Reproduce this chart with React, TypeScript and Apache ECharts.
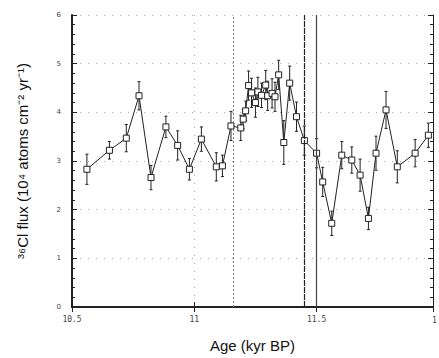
import React, { useEffect, useRef } from "react";
import * as echarts from "echarts";

const ages = [10.561, 10.653, 10.722, 10.774, 10.823, 10.884, 10.932, 10.98, 11.029, 11.09, 11.115, 11.15, 11.19, 11.2, 11.21, 11.222, 11.234, 11.25, 11.26, 11.275, 11.292, 11.3, 11.318, 11.33, 11.345, 11.366, 11.39, 11.418, 11.45, 11.5, 11.525, 11.562, 11.603, 11.644, 11.678, 11.712, 11.743, 11.784, 11.83, 11.903, 11.957];
const flux = [2.83, 3.22, 3.47, 4.34, 2.66, 3.7, 3.32, 2.83, 3.45, 2.88, 2.9, 3.72, 3.68, 3.86, 4.03, 4.55, 4.4, 4.2, 4.42, 4.35, 4.56, 4.34, 4.39, 4.32, 4.77, 3.38, 4.6, 3.91, 3.42, 3.16, 2.57, 1.72, 3.12, 3.02, 2.71, 1.82, 3.16, 4.05, 2.88, 3.16, 3.53];
const errs = [0.31, 0.18, 0.28, 0.29, 0.25, 0.22, 0.3, 0.22, 0.25, 0.29, 0.22, 0.3, 0.26, 0.2, 0.2, 0.3, 0.3, 0.3, 0.3, 0.25, 0.3, 0.3, 0.3, 0.3, 0.3, 0.45, 0.35, 0.3, 0.3, 0.3, 0.3, 0.25, 0.28, 0.27, 0.33, 0.23, 0.35, 0.38, 0.33, 0.28, 0.25];
const xTicks = ["10.5", "11", "11.5"];
const edgeTick = "1";
const markers = [11.158, 11.449, 11.5];

export default function App() {
  const ref = useRef<HTMLDivElement>(null);
  useEffect(() => {
    const chart = echarts.init(ref.current!, null, { renderer: "svg" });
    const pts = ages.map((a, i) => [a, flux[i]]);
    const eb = ages.map((a, i) => [a, flux[i], errs[i]]);
    const tickFont = { fontFamily: "DejaVu Sans Mono", fontSize: 8, color: "#444" };
    chart.setOption({
      animation: false,
      backgroundColor: "#fff",
      grid: { left: 72, right: 6, top: 15, bottom: 51 },
      xAxis: [
        {
          type: "value", min: 10.5, max: 11.976, interval: 0.5,
          axisLine: { lineStyle: { color: "#222", width: 2 } },
          axisTick: { inside: true, length: 5, lineStyle: { color: "#222" } },
          axisLabel: { ...tickFont, margin: 8, showMaxLabel: false, formatter: (v: number) => { const i = Math.round((v - 10.5) / 0.5); return xTicks[i] ?? ""; } },
          splitLine: { show: true, lineStyle: { color: "#aaa", type: [1, 7], width: 1 } },
          name: "Age (kyr BP)", nameLocation: "middle", nameGap: 31,
          nameTextStyle: { fontFamily: "Liberation Sans", fontSize: 15, color: "#111" },
        },
        {
          type: "value", position: "top", min: 10.5, max: 11.976, interval: 0.5,
          axisLine: { lineStyle: { color: "#222", width: 2 } },
          axisTick: { inside: true, length: 5, lineStyle: { color: "#222" } },
          axisLabel: { show: false }, splitLine: { show: false },
        },
      ],
      yAxis: [
        {
          type: "value", min: 0, max: 6, interval: 1,
          axisLine: { show: true, lineStyle: { color: "#222", width: 2 } },
          axisTick: { inside: true, length: 5, lineStyle: { color: "#222" } },
          minorTick: { show: true, splitNumber: 5, length: 3, lineStyle: { color: "#222" } },
          axisLabel: { fontFamily: "DejaVu Sans", fontSize: 7, color: "#444", margin: 11 },
          splitLine: { show: true, lineStyle: { color: "#aaa", type: [1, 7], width: 1 } },
          name: "³⁶Cl flux (10⁴ atoms cm⁻² yr⁻¹)", nameLocation: "middle", nameGap: 42,
          nameTextStyle: { fontFamily: "Liberation Sans", fontSize: 15, color: "#111" },
        },
        {
          type: "value", position: "right", min: 0, max: 6, interval: 1,
          axisLine: { show: true, lineStyle: { color: "#222", width: 1 } },
          axisTick: { inside: true, length: 5, lineStyle: { color: "#222" } },
          minorTick: { show: true, splitNumber: 5, length: 3, lineStyle: { color: "#222" } },
          axisLabel: { show: false }, splitLine: { show: false },
        },
      ],
      graphic: [
        { type: "text", left: 432, top: 316, style: { text: edgeTick, fontFamily: "DejaVu Sans Mono", fontSize: 8, fill: "#444" } },
      ],
      series: [
        {
          type: "line", data: [], silent: true,
          markLine: {
            silent: true, symbol: "none", label: { show: false },
            data: [
              { xAxis: markers[0], lineStyle: { color: "#777", type: [2, 2], width: 1 } },
              { xAxis: markers[1], lineStyle: { color: "#222", type: [6, 1], width: 1.2 } },
              { xAxis: markers[2], lineStyle: { color: "#444", type: "solid", width: 1.2 } },
            ],
          },
        },
        {
          type: "custom", data: eb, z: 3,
          renderItem: (params: any, api: any) => {
            const x = api.value(0), y = api.value(1), e = api.value(2);
            const hi = api.coord([x, y + e]);
            const lo = api.coord([x, y - e]);
            const st = { stroke: "#222", lineWidth: 1 };
            return {
              type: "group",
              children: [
                { type: "line", shape: { x1: hi[0], y1: hi[1], x2: lo[0], y2: lo[1] }, style: st },
                { type: "line", shape: { x1: hi[0] - 1.5, y1: hi[1], x2: hi[0] + 1.5, y2: hi[1] }, style: st },
                { type: "line", shape: { x1: lo[0] - 1.5, y1: lo[1], x2: lo[0] + 1.5, y2: lo[1] }, style: st },
              ],
            };
          },
        },
        {
          type: "line", data: pts, z: 4,
          symbol: "rect", symbolSize: 6,
          lineStyle: { color: "#222", width: 1 },
          itemStyle: { color: "#fff", borderColor: "#222", borderWidth: 1 },
        },
      ],
    });
    return () => chart.dispose();
  }, []);
  return <div ref={ref} style={{ position: "fixed", left: 0, top: 0, width: 439, height: 358 }} />;
}
